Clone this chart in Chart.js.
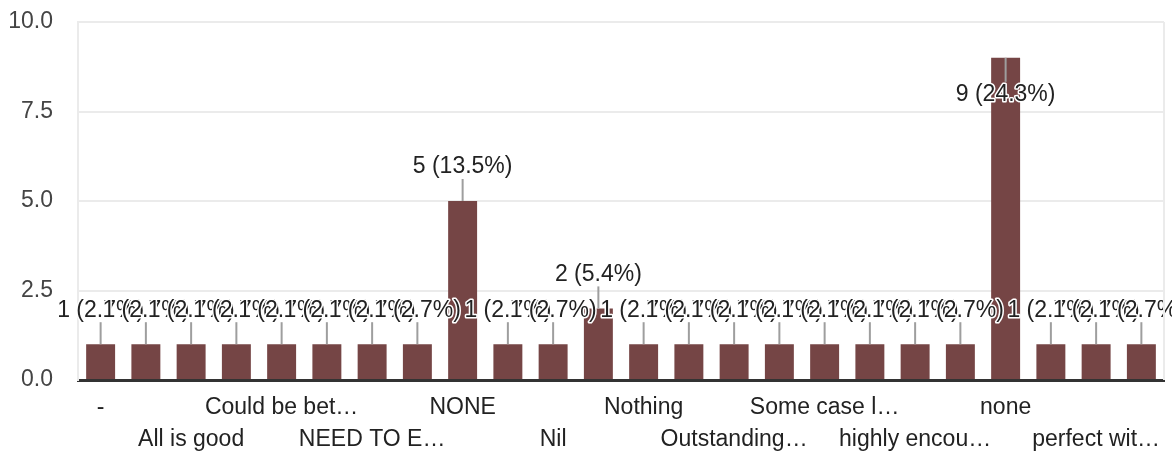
<!DOCTYPE html>
<html>
<head>
<meta charset="utf-8">
<script src="https://cdn.jsdelivr.net/npm/chart.js@4"></script>
<style>
  html, body { margin: 0; padding: 0; background: #fff; }
  #wrap { width: 1172px; height: 457px; }
</style>
</head>
<body>
<div id="wrap"><canvas id="grafico"></canvas></div>
<script>
// categorias (solo se ven una de cada dos, las demas no se leen en la imagen)
const categorias = ['-', '', 'All is good', '', 'Could be bet…', '', 'NEED TO E…', '',
  'NONE', '', 'Nil', '', 'Nothing', '', 'Outstanding…', '', 'Some case l…', '',
  'highly encou…', '', 'none', '', 'perfect wit…', ''];
const respuestas = [1, 1, 1, 1, 1, 1, 1, 1, 5, 1, 1, 2, 1, 1, 1, 1, 1, 1, 1, 1, 9, 1, 1, 1];
const ticksY = [0, 2.5, 5, 7.5, 10];

const total = respuestas.reduce((a, b) => a + b, 0);
const fuente = '"Liberation Sans", Arial, sans-serif';

// etiquetas de valor con linea guia
const etiquetas = {
  id: 'etiquetas',
  afterDatasetsDraw(chart) {
    const ctx = chart.ctx;
    const area = chart.chartArea;
    const meta = chart.getDatasetMeta(0);
    ctx.save();
    ctx.font = '23px ' + fuente;
    ctx.textAlign = 'center';
    ctx.textBaseline = 'middle';
    ctx.lineJoin = 'round';
    meta.data.forEach((bar, i) => {
      const v = respuestas[i];
      const texto = v + ' (' + (v / total * 100).toFixed(1) + '%)';
      let yTexto, y1, y2;
      if (bar.y - 46 < area.top) {
        yTexto = bar.y + 37;
        y1 = bar.y; y2 = bar.y + 24;
      } else {
        yTexto = bar.y - 34;
        y1 = bar.y - 22; y2 = bar.y;
      }
      ctx.strokeStyle = '#9e9e9e';
      ctx.lineWidth = 2;
      ctx.beginPath();
      ctx.moveTo(bar.x, y1);
      ctx.lineTo(bar.x, y2);
      ctx.stroke();
      ctx.strokeStyle = '#fff';
      ctx.lineWidth = 3;
      ctx.strokeText(texto, bar.x, yTexto);
      ctx.fillStyle = '#222';
      ctx.fillText(texto, bar.x, yTexto);
    });
    // borde derecho
    ctx.strokeStyle = '#ebebeb';
    ctx.lineWidth = 2;
    ctx.beginPath();
    ctx.moveTo(area.right, area.top);
    ctx.lineTo(area.right, area.bottom);
    ctx.stroke();
    ctx.restore();
  }
};

const ctx = document.getElementById('grafico').getContext('2d');
const grafico = new Chart(ctx, {
  type: 'bar',
  data: {
    labels: categorias,
    datasets: [{
      label: 'Respuestas',
      data: respuestas,
      backgroundColor: '#754545',
      barPercentage: 0.64,
      categoryPercentage: 1
    }]
  },
  options: {
    responsive: true,
    maintainAspectRatio: false,
    animation: false,
    layout: { padding: { top: 22, right: 8, left: 0, bottom: 0 } },
    plugins: {
      legend: { display: false },
      tooltip: { enabled: false }
    },
    scales: {
      x: {
        grid: { display: false, drawTicks: false },
        border: { display: true, color: '#333', width: 3 },
        afterFit(scale) { scale.height = 77; },
        ticks: {
          autoSkip: false,
          maxRotation: 0,
          minRotation: 0,
          padding: 12,
          color: '#222',
          font: { family: fuente, size: 23, lineHeight: 1.39 },
          callback(val, i) {
            if (i % 2) return '';
            return (i % 4 === 0) ? [categorias[i], ''] : ['', categorias[i]];
          }
        }
      },
      y: {
        min: 0,
        max: 10,
        afterFit(scale) {
          scale.width = 78;
          scale.paddingTop = 0;
          scale.paddingBottom = 0;
        },
        afterBuildTicks(scale) { scale.ticks = ticksY.map(v => ({ value: v })); },
        grid: { color: '#ebebeb', lineWidth: 2, drawTicks: false },
        border: { display: true, color: '#ebebeb', width: 2 },
        ticks: {
          padding: 25,
          color: '#444',
          font: { family: fuente, size: 23 },
          callback: v => v.toFixed(1)
        }
      }
    }
  },
  plugins: [etiquetas]
});
</script>
</body>
</html>
